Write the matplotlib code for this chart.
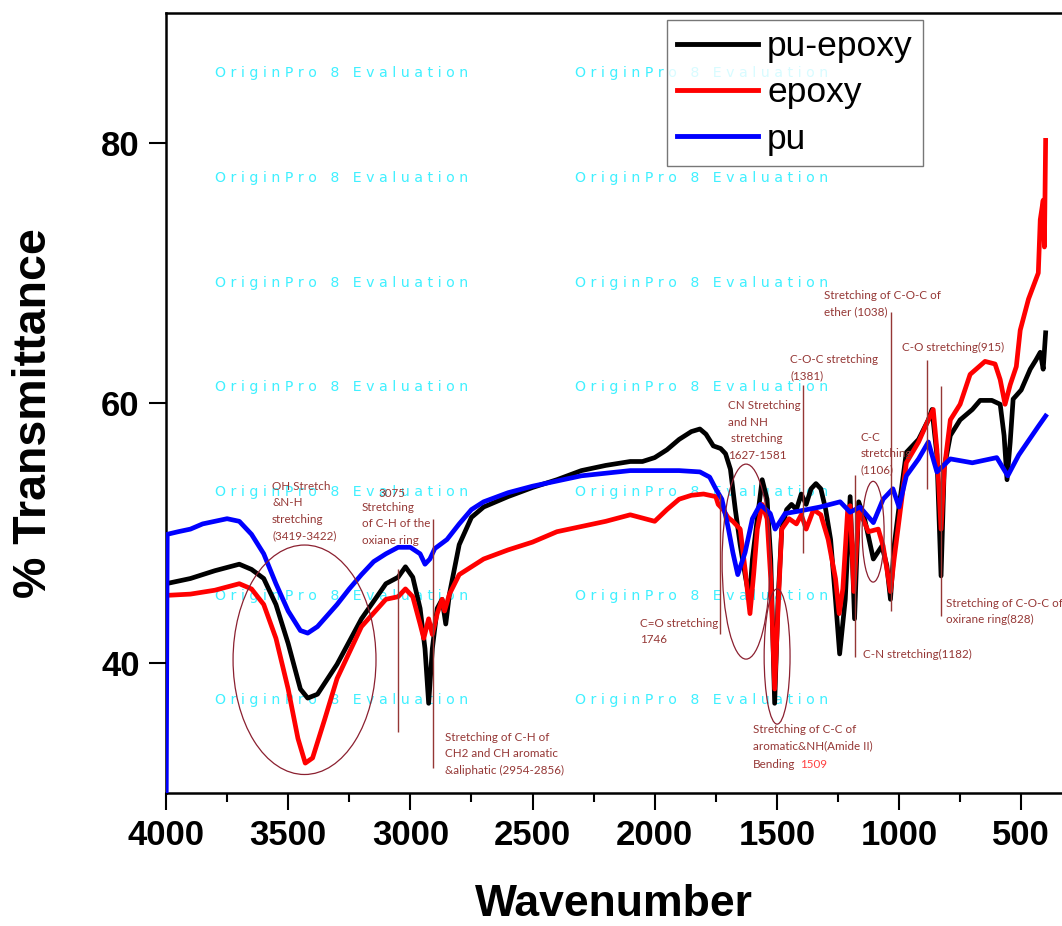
import matplotlib
matplotlib.use("Agg")
import matplotlib.pyplot as plt
from matplotlib.patches import Ellipse
from matplotlib.ticker import MultipleLocator

# ---- data ----
wn_pe = [4000, 3900, 3800, 3700, 3650, 3600, 3550, 3500, 3450, 3420, 3380, 3300,
         3200, 3100, 3050, 3020, 2990, 2960, 2940, 2925, 2910, 2890, 2870, 2855,
         2840, 2800, 2750, 2700, 2600, 2500, 2400, 2300, 2200, 2100, 2050, 2000,
         1950, 1900, 1850, 1815, 1790, 1760, 1730, 1710, 1690, 1670, 1650, 1630,
         1612, 1600, 1580, 1560, 1540, 1525, 1509, 1495, 1480, 1460, 1440, 1420,
         1400, 1380, 1360, 1340, 1320, 1300, 1280, 1260, 1243, 1220, 1200, 1182,
         1165, 1140, 1105, 1070, 1050, 1035, 1020, 1000, 970, 920, 880, 865, 845,
         828, 815, 790, 750, 700, 668, 620, 586, 570, 558, 545, 533, 500, 463, 440,
         422, 410, 400]
t_pe = [46.1, 46.5, 47.1, 47.6, 47.2, 46.5, 44.5, 41.5, 38.0, 37.3, 37.6, 39.9,
        43.4, 46.1, 46.6, 47.4, 46.6, 44.2, 41.1, 36.9, 41.1, 44.2, 44.9, 43.0,
        45.3, 49.1, 51.2, 52.0, 52.8, 53.5, 54.1, 54.8, 55.2, 55.5, 55.5, 55.8,
        56.4, 57.2, 57.8, 58.0, 57.6, 56.7, 56.5, 56.1, 54.9, 51.8, 49.1, 46.8,
        44.9, 48.0, 51.1, 54.1, 52.6, 48.0, 36.9, 44.9, 50.3, 51.8, 52.2, 51.8,
        53.0, 52.2, 53.4, 53.8, 53.4, 51.8, 49.5, 44.9, 40.7, 44.9, 52.8, 43.4,
        52.4, 51.0, 48.0, 49.0, 47.5, 44.9, 49.0, 52.0, 56.2, 57.2, 58.7, 59.5, 56.0,
        46.7, 55.0, 57.5, 58.7, 59.5, 60.2, 60.2, 59.9, 57.5, 54.1, 57.0, 60.3,
        61.0, 62.6, 63.3, 63.9, 62.6, 65.4]

wn_ep = [4000, 3900, 3800, 3700, 3650, 3600, 3550, 3500, 3460, 3430, 3400, 3350,
         3300, 3200, 3100, 3050, 3020, 2990, 2960, 2945, 2925, 2910, 2890, 2870,
         2860, 2840, 2800, 2700, 2600, 2500, 2400, 2300, 2200, 2100, 2000, 1950,
         1900, 1850, 1800, 1750, 1740, 1720, 1700, 1680, 1650, 1630, 1610, 1595,
         1580, 1560, 1540, 1525, 1509, 1495, 1480, 1450, 1420, 1400, 1380, 1350,
         1320, 1290, 1260, 1245, 1230, 1210, 1200, 1185, 1165, 1125, 1085, 1065,
         1035, 1020, 970, 920, 880, 860, 845, 828, 815, 790, 750, 709, 648, 607,
         586, 566, 545, 520, 504, 470, 430, 422, 410, 405, 400]
t_ep = [45.2, 45.3, 45.6, 46.1, 45.7, 44.5, 41.9, 38.0, 34.2, 32.3, 32.7, 35.7,
        38.8, 42.8, 44.9, 45.1, 45.7, 45.1, 43.0, 41.9, 43.4, 42.2, 43.8, 44.9,
        44.0, 45.3, 46.8, 48.0, 48.7, 49.3, 50.1, 50.5, 50.9, 51.4, 50.9, 51.8,
        52.6, 52.9, 53.0, 52.8, 52.2, 51.8, 51.2, 50.9, 50.3, 47.2, 43.8, 46.8,
        50.3, 52.2, 51.1, 46.5, 38.0, 44.2, 50.3, 51.1, 50.7, 51.4, 50.3, 51.8,
        51.4, 49.5, 46.5, 43.8, 45.7, 51.8, 52.1, 45.5, 51.8, 50.1, 50.3, 49.0,
        45.5, 48.0, 55.4, 57.0, 58.7, 59.5, 56.4, 50.3, 54.9, 58.7, 59.9, 62.2,
        63.2, 63.0, 61.8, 59.9, 61.4, 62.8, 65.6, 68.0, 70.0, 74.1, 75.6, 72.0, 80.2]

wn_pu = [4000, 3995, 3950, 3900, 3850, 3800, 3750, 3700, 3650, 3600, 3550, 3500,
         3450, 3420, 3380, 3300, 3250, 3200, 3150, 3100, 3050, 3000, 2960, 2940,
         2920, 2900, 2850, 2800, 2750, 2700, 2600, 2500, 2400, 2300, 2200, 2100,
         2000, 1900, 1815, 1775, 1750, 1725, 1700, 1680, 1660, 1630, 1600, 1568,
         1527, 1507, 1466, 1405, 1323, 1241, 1200, 1160, 1105, 1065, 1025, 1000,
         970, 920, 880, 845, 790, 700, 650, 600, 555, 510, 430, 400]
t_pu = [25.0, 49.9, 50.1, 50.3, 50.7, 50.9, 51.1, 50.9, 49.9, 48.4, 46.1, 44.0,
        42.5, 42.3, 42.8, 44.5, 45.7, 46.8, 47.8, 48.4, 48.9, 48.9, 48.4, 47.6,
        48.0, 48.8, 49.5, 50.7, 51.8, 52.4, 53.1, 53.6, 54.0, 54.4, 54.6, 54.8,
        54.8, 54.8, 54.7, 54.3, 53.4, 52.6, 50.5, 48.5, 46.8, 48.5, 51.1, 52.2,
        51.5, 50.3, 51.5, 51.7, 52.0, 52.4, 51.6, 52.0, 50.8, 52.6, 53.4, 52.0,
        54.4, 55.7, 57.0, 54.7, 55.7, 55.4, 55.6, 55.8, 54.4, 56.0, 58.2, 59.0]

series = [("pu-epoxy", wn_pe, t_pe, "black"),
          ("epoxy", wn_ep, t_ep, "#ff0000"),
          ("pu", wn_pu, t_pu, "#0000ff")]

# annotations: (text, wavenumber, transmittance at top of text)
labels = [
    ("OH Stretch\n&N-H\nstretching\n(3419-3422)", 3566, 54.0),
    ("3075", 3132, 53.5),
    ("Stretching\nof C-H of the\noxiane ring", 3198, 52.4),
    ("Stretching of C-H of\nCH2 and CH aromatic\n&aliphatic (2954-2856)", 2858, 34.7),
    ("C=O stretching\n1746", 2060, 43.5),
    ("CN Stretching\nand NH\n stretching\n1627-1581", 1700, 60.2),
    ("Stretching of C-C of\naromatic&NH(Amide II)", 1597, 35.3),
    ("C-O-C stretching\n(1381)", 1446, 63.8),
    ("Stretching of C-O-C of\nether (1038)", 1307, 68.7),
    ("C-O stretching(915)", 987, 64.7),
    ("C-C\nstretching\n(1106)", 1159, 57.8),
    ("C-N stretching(1182)", 1147, 41.1),
    ("Stretching of C-O-C of\noxirane ring(828)", 807, 45.0),
]
bend_label = ("Bending", 1597, 32.6)
bend_value = "1509"

# marker lines: (wavenumber, top, bottom)
marker_lines = [(3050, 47.2, 34.7), (2907, 51.1, 31.9), (1732, 53.0, 42.2),
                (1393, 61.4, 48.5), (1180, 54.5, 40.5), (1032, 67.0, 44.0),
                (885, 63.3, 53.4), (828, 61.3, 43.6)]

# ellipses: (centre wn, centre T, width, height)
rings = [(3433, 40.25, 585, 17.65), (1626, 47.8, 196, 15.0),
         (1499, 40.5, 106, 10.4), (1106, 50.1, 90, 7.75)]

ann_color = "#953735"
ann_size = 8.4

fig = plt.figure(figsize=(10.62, 9.26), dpi=100)
ax = fig.add_axes([0.1563, 0.1436, 0.8437, 0.8424])

# watermark
wm = "O r i g i n P r o   8   E v a l u a t i o n"
for yy in [73, 178, 283, 387, 492, 596, 700]:
    for xx in [215, 575]:
        ax.text(xx / 1062, 1 - yy / 926, wm, transform=fig.transFigure,
                color="#3ff0ff", fontsize=10.2, family="DejaVu Sans",
                va="center", ha="left", zorder=1)

for name, x, y, c in series:
    ax.plot(x, y, color=c, lw=3.4, label=name, zorder=3)

for txt, x, y in labels:
    ax.text(x, y, txt, color=ann_color, fontsize=ann_size, family="Lato",
            va="top", ha="left", linespacing=1.6, zorder=4)
tb = ax.text(bend_label[1], bend_label[2], bend_label[0], color=ann_color,
             fontsize=ann_size, family="Lato", va="top", ha="left", zorder=4)
ax.annotate(bend_value, xy=(1, 0), xycoords=tb, xytext=(3, 0),
            textcoords="offset points", color="#ff4040", fontsize=ann_size,
            family="Lato", va="bottom", ha="left", zorder=4)

for x, y0, y1 in marker_lines:
    ax.vlines(x, y1, y0, color=ann_color, lw=1, zorder=4)

for cx, cy, w, h in rings:
    ax.add_patch(Ellipse((cx, cy), w, h, fill=False, edgecolor="#8b2030",
                         lw=0.9, zorder=4))

ax.set_xlim(4000, 333)
ax.set_ylim(30, 90)
ax.xaxis.set_major_locator(MultipleLocator(500))
ax.xaxis.set_minor_locator(MultipleLocator(250))
ax.set_yticks([40, 60, 80])
ax.tick_params(axis="both", which="major", direction="out", length=12,
               width=1.5, labelsize=25, pad=7)
ax.tick_params(axis="x", which="minor", direction="out", length=6.5, width=1.5)
for lab in ax.get_xticklabels() + ax.get_yticklabels():
    lab.set_fontweight("bold")
    lab.set_family("Liberation Sans")

for s in ["left", "bottom", "top"]:
    ax.spines[s].set_linewidth(1.8)
ax.spines["right"].set_visible(False)

ax.set_xlabel("Wavenumber", fontsize=32, fontweight="bold",
              family="Liberation Sans", labelpad=23)
ax.set_ylabel("% Transmittance", fontsize=33.5, fontweight="bold",
              family="Liberation Sans")
ax.yaxis.set_label_coords(-0.123, 0.487)

leg = ax.legend(loc="upper left", bbox_to_anchor=(0.559, 0.991),
                handlelength=2.3, handletextpad=0.25, borderpad=0.28,
                labelspacing=0.38, fancybox=False, borderaxespad=0,
                prop={"family": "Liberation Sans", "size": 25.5})
leg.get_frame().set_edgecolor("#555555")
leg.get_frame().set_linewidth(1)
for l in leg.get_lines():
    l.set_linewidth(3.5)

fig.savefig("out.png", dpi=100)
